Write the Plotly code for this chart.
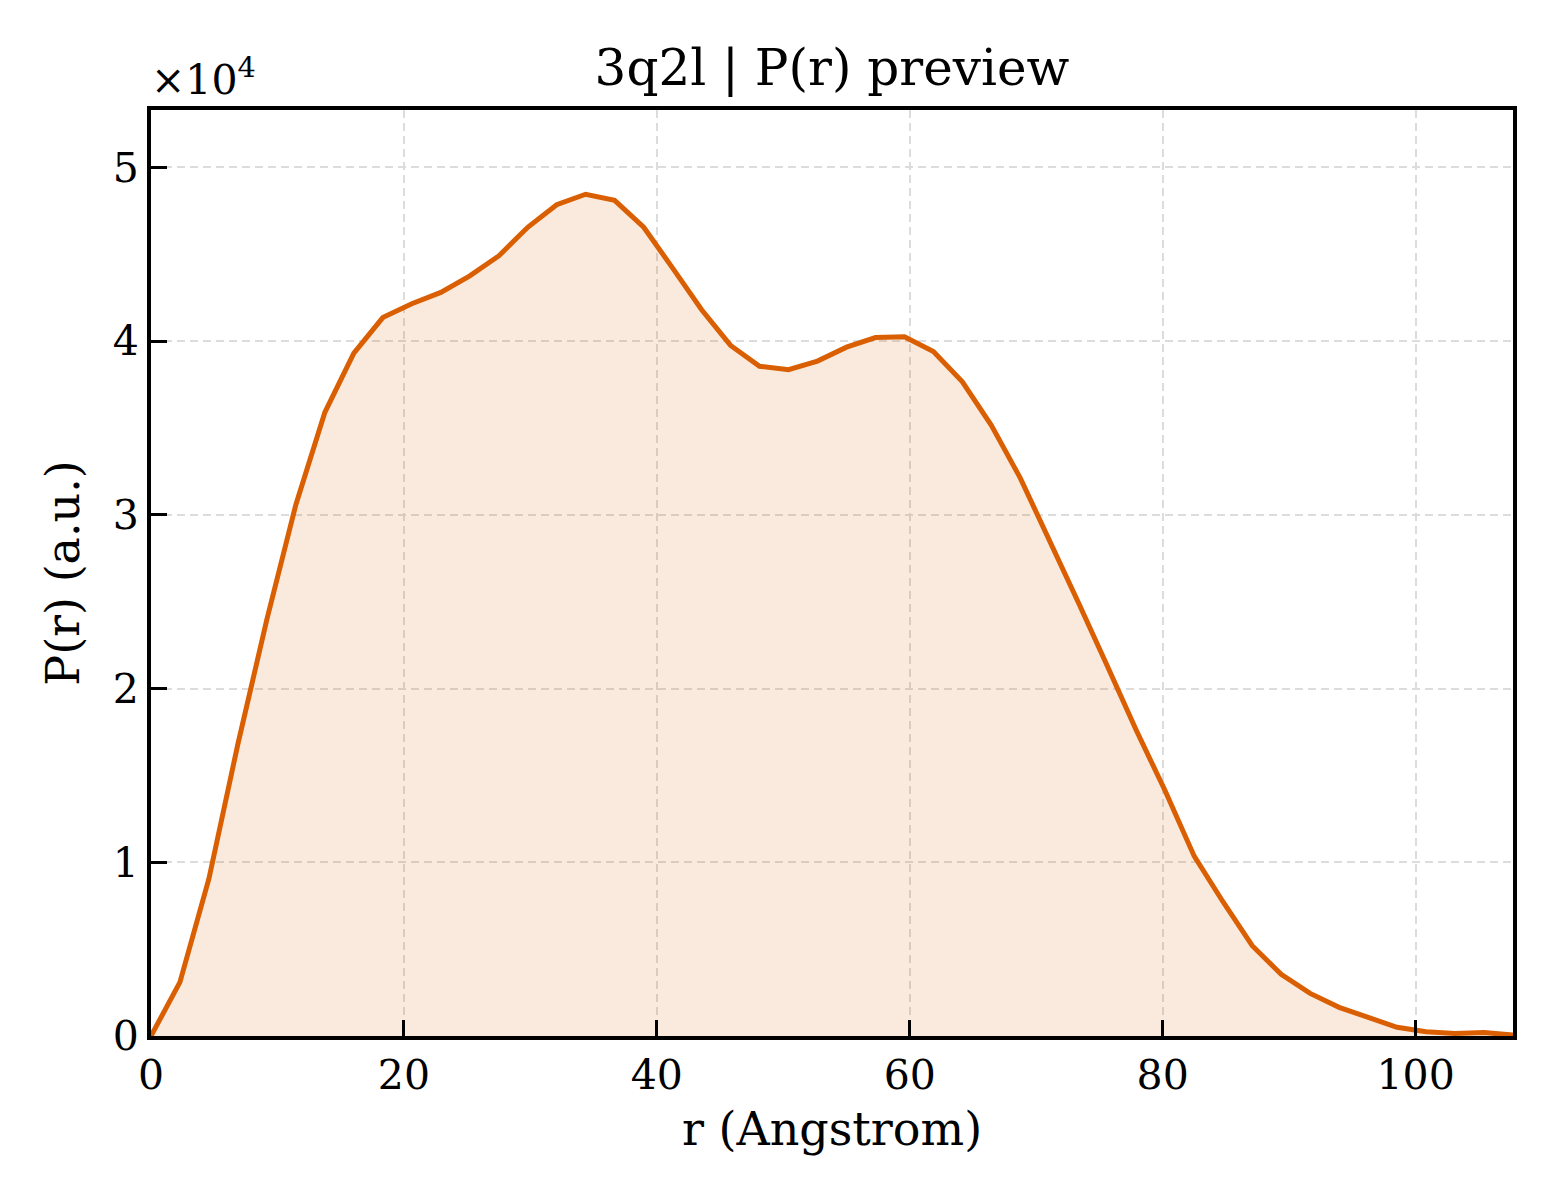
import plotly.graph_objects as go

# P(r) curve (r in Angstrom, P(r) in a.u.)
r_values = [
    0.0, 2.29, 4.58, 6.87, 9.17, 11.46, 13.75, 16.04, 18.33, 20.62,
    22.92, 25.21, 27.50, 29.79, 32.08, 34.37, 36.66, 38.96, 41.25, 43.54,
    45.83, 48.12, 50.41, 52.70, 55.00, 57.29, 59.58, 61.87, 64.16, 66.45,
    68.75, 71.04, 73.33, 75.62, 77.91, 80.20, 82.49, 84.79, 87.08, 89.37,
    91.66, 93.95, 96.24, 98.53, 100.83, 103.12, 105.41, 107.70,
]
pr_values = [
    0, 3100, 9050, 16800, 24000, 30600, 35900, 39300, 41350, 42150,
    42800, 43750, 44900, 46550, 47850, 48450, 48100, 46550, 44200, 41800,
    39750, 38550, 38350, 38850, 39650, 40200, 40250, 39400, 37650, 35150,
    32100, 28600, 24950, 21300, 17600, 14100, 10350, 7700, 5200, 3550,
    2450, 1650, 1050, 500, 250, 150, 200, 50,
]

x_ticks = [0, 20, 40, 60, 80, 100]
y_ticks = [0, 10000, 20000, 30000, 40000, 50000]
y_tick_labels = ["0", "1", "2", "3", "4", "5"]

LINE_COLOR = "#d95f02"
FONT = "DejaVu Serif"

fig = go.Figure()
fig.add_trace(
    go.Scatter(
        x=r_values,
        y=pr_values,
        mode="lines",
        line=dict(color=LINE_COLOR, width=5),
        fill="tozeroy",
        fillcolor="rgba(217,95,2,0.13)",
        showlegend=False,
    )
)

axis_common = dict(
    showline=True,
    linecolor="black",
    linewidth=4,
    mirror=True,
    ticks="inside",
    ticklen=16,
    tickwidth=3,
    tickcolor="black",
    showgrid=True,
    gridcolor="#dcdcdc",
    gridwidth=1.5,
    griddash="8px,5px",
    zeroline=False,
    tickfont=dict(family=FONT, size=41, color="black"),
)

fig.update_xaxes(
    **axis_common,
    range=[0, 107.7],
    tickvals=x_ticks,
    title=dict(text="r (Angstrom)", font=dict(family=FONT, size=46, color="black"), standoff=16),
)
fig.update_yaxes(
    **axis_common,
    range=[0, 53300],
    tickvals=y_ticks,
    ticktext=y_tick_labels,
    title=dict(text="P(r) (a.u.)", font=dict(family=FONT, size=46, color="black"), standoff=20),
)

fig.add_annotation(
    text="×10<sup>4</sup>",
    xref="paper",
    yref="paper",
    x=0.0,
    y=1.0,
    xanchor="left",
    yanchor="bottom",
    xshift=-2,
    yshift=4,
    showarrow=False,
    font=dict(family=FONT, size=41, color="black"),
)

fig.update_layout(
    width=1560,
    height=1200,
    title=dict(
        text="3q2l | P(r) preview",
        font=dict(family=FONT, size=50, color="black"),
        xref="paper",
        x=0.5,
        xanchor="center",
        y=1 - 59 / 1200,
        yanchor="middle",
    ),
    margin=dict(l=143, r=55, t=102, b=172),
    plot_bgcolor="white",
    paper_bgcolor="white",
    font=dict(family=FONT, color="black"),
)

fig.write_html("out.html")
